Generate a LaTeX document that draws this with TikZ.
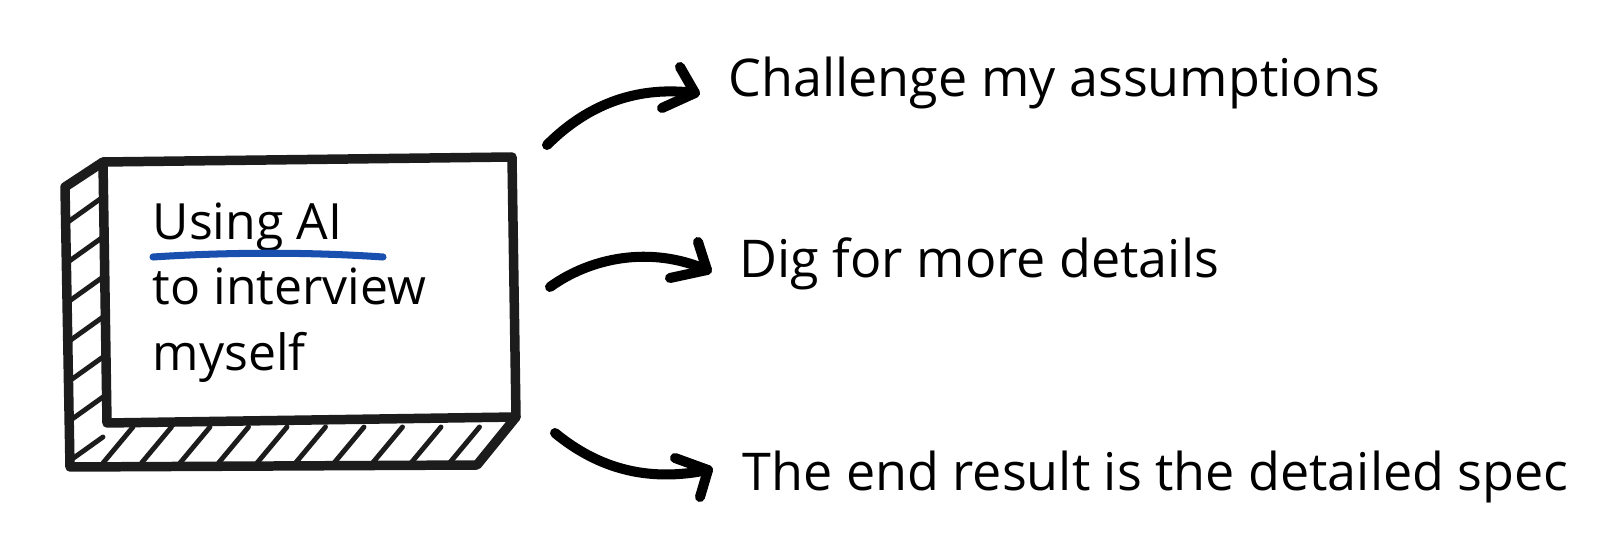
\documentclass[tikz,border=0pt]{standalone}
\usepackage{fontspec}
\setmainfont{Open Sans}
\definecolor{ink}{RGB}{28,28,28}
\definecolor{penblue}{RGB}{25,80,175}
\begin{document}
\begin{tikzpicture}[x=0.01cm,y=-0.01cm,
  outline/.style={line width=2.7pt, line cap=round, line join=round, draw=ink},
  hatch/.style={line width=1.4pt, line cap=round, draw=ink},
  shaft/.style={line width=2.85pt, line cap=round, draw=black},
  headstyle/.style={line width=2.85pt, line cap=round, line join=round, draw=black},
  lbl/.style={anchor=base west, inner sep=0pt, font=\fontsize{14.8pt}{17pt}\selectfont},
  boxtxt/.style={anchor=base west, inner sep=0pt, font=\fontsize{14.2pt}{17pt}\selectfont},
]
\useasboundingbox (0,0) rectangle (1600,555);
\fill[white] (0,0) rectangle (1600,555);

% box corners
\coordinate (ftl) at (103,162);
\coordinate (ftr) at (512,157);
\coordinate (fbr) at (516,417);
\coordinate (fbl) at (107,423);
\coordinate (stl) at (65,187);
\coordinate (sbl) at (70,467);
\coordinate (bbr) at (477,465);

% side hatches
\foreach \k in {0,...,6} {
  \draw[hatch] (68,{222+40*\k}) -- (103,{197+40*\k});
}
% bottom hatches
\foreach \k in {0,...,9} {
  \draw[hatch] ({103+38.5*\k},463) -- ({133+38.5*\k},427);
}

% outlines
\draw[outline] (ftl) -- (ftr) -- (fbr) -- (fbl) -- cycle;
\draw[outline] (ftl) -- (stl) -- (sbl) -- (bbr) -- (fbr);

% box text
\node[boxtxt] (t1) at (152,240) {Using AI};
\node[boxtxt] (t2) at (152,305) {to interview};
\node[boxtxt] (t3) at (152,370) {myself};
\draw[penblue, line width=2pt, line cap=round] (153,257) .. controls (230,252) and (310,252) .. (383,257);

% labels
\node[lbl] (l1) at (728,97) {Challenge my assumptions};
\node[lbl] (l2) at (739,278) {Dig for more details};
\node[lbl] (l3) at (742,490) {The end result is the detailed spec};

% arrow 1
\coordinate (a1s) at (547,145);
\coordinate (a1t) at (695,93);
\draw[shaft] (a1s) .. controls (590,102) and (640,86) .. (a1t);
\draw[headstyle] (680,67) -- (a1t) -- (662,108);
% arrow 2
\coordinate (a2s) at (550,287);
\coordinate (a2t) at (707,270);
\draw[shaft] (a2s) .. controls (590,258) and (650,245) .. (a2t);
\draw[headstyle] (698,242) -- (a2t) -- (670,278);
% arrow 3
\coordinate (a3s) at (555,433);
\coordinate (a3t) at (708,470);
\draw[shaft] (a3s) .. controls (600,470) and (650,482) .. (a3t);
\draw[headstyle] (675,458) -- (a3t) -- (700,497);
\end{tikzpicture}
\end{document}
